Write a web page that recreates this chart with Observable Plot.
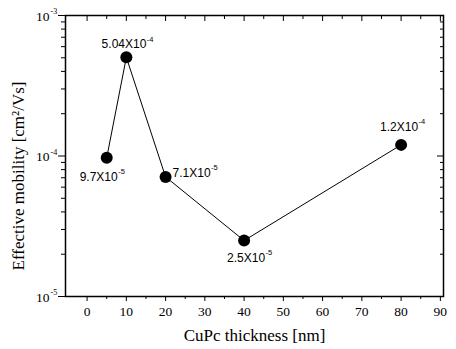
<!DOCTYPE html>
<html><head><meta charset="utf-8">
<script src="https://cdn.jsdelivr.net/npm/d3@7"></script>
<script src="https://cdn.jsdelivr.net/npm/@observablehq/plot@0.6"></script>
<style>body{margin:0;background:#fff}</style>
</head><body><div id="chart"></div>
<script>
const thickness = [5, 10, 20, 40, 80];
const mobility = [9.7e-5, 5.04e-4, 7.1e-5, 2.5e-5, 1.2e-4];
const labelBase = ["9.7X10", "5.04X10", "7.1X10", "2.5X10", "1.2X10"];
const labelExp = ["-5", "-4", "-5", "-5", "-4"];
const labelDx = [11, 20, 45, 21, 17];
const labelDy = [19, -13, -4, 17.5, -18];
const xMajor = [0, 10, 20, 30, 40, 50, 60, 70, 80, 90];
const xMinor = [5, 15, 25, 35, 45, 55, 65, 75, 85];
const yMajor = [1e-5, 1e-4, 1e-3];
const yExp = ["-5", "-4", "-3"];
const yMinor = [];
for (const d of [1e-5, 1e-4]) for (let m = 2; m <= 9; m++) yMinor.push(m * d);

const data = thickness.map((t, i) => ({t, m: mobility[i], base: labelBase[i], exp: labelExp[i], dx: labelDx[i], dy: labelDy[i]}));
const serif = "Liberation Serif, Times New Roman, serif";
const sans = "Liberation Sans, Arial, sans-serif";

const marks = [
  Plot.frame({stroke: "black", strokeWidth: 1.5}),
  Plot.axisX(xMajor, {tickSize: 5, tickPadding: 5, fontSize: 13.5, label: null, tickFormat: d => d}),
  Plot.axisX(xMinor, {tickSize: 3, tickFormat: () => "", label: null}),
  Plot.axisX(xMajor, {anchor: "top", tickSize: -5, tickFormat: () => "", label: null}),
  Plot.axisX(xMinor, {anchor: "top", tickSize: -3, tickFormat: () => "", label: null}),
  Plot.axisY(yMajor, {tickSize: 7, tickFormat: () => "", label: null}),
  Plot.axisY(yMinor, {tickSize: 4, tickFormat: () => "", label: null}),
  Plot.axisY(yMajor, {anchor: "right", tickSize: -7, tickFormat: () => "", label: null}),
  Plot.axisY(yMinor, {anchor: "right", tickSize: -4, tickFormat: () => "", label: null}),
  Plot.text(yMajor, {y: d => d, frameAnchor: "left", text: () => "10", textAnchor: "end", dx: -16, dy: 1, fontSize: 13.5, fontFamily: serif}),
  Plot.text(yMajor, {y: d => d, frameAnchor: "left", text: (d, i) => yExp[i], textAnchor: "start", dx: -15, dy: -4, fontSize: 8, fontFamily: serif}),
  Plot.text(["Effective mobility [cm\u00B2/Vs]"], {frameAnchor: "left", textAnchor: "middle", lineAnchor: "middle", dx: -47, dy: 20, rotate: -90, fontSize: 17, fontFamily: serif}),
  Plot.text(["CuPc thickness [nm]"], {frameAnchor: "bottom", textAnchor: "middle", dy: 44, fontSize: 17, fontFamily: serif}),
  Plot.line(data, {x: "t", y: "m", stroke: "black", strokeWidth: 1}),
  Plot.dot(data, {x: "t", y: "m", r: 6, fill: "black"})
];

const labelMarks = [];
data.forEach(d => {
  labelMarks.push(Plot.text([d], {x: "t", y: "m", text: "base", textAnchor: "end", dx: d.dx, dy: d.dy, fontSize: 12, fontFamily: sans}));
  labelMarks.push(Plot.text([d], {x: "t", y: "m", text: "exp", textAnchor: "start", dx: d.dx + 0.5, dy: d.dy - 5, fontSize: 7.5, fontFamily: sans}));
});

const chart = Plot.plot({
  width: 456,
  height: 349,
  marginLeft: 65,
  marginRight: 13,
  marginTop: 15,
  marginBottom: 53,
  style: {background: "white", color: "black", fontFamily: serif},
  x: {domain: [-5.5, 90.8], axis: null},
  y: {type: "log", domain: [1e-5, 1e-3], axis: null},
  marks: [...marks, ...labelMarks]
});
document.getElementById("chart").appendChild(chart);
</script>
</body></html>
